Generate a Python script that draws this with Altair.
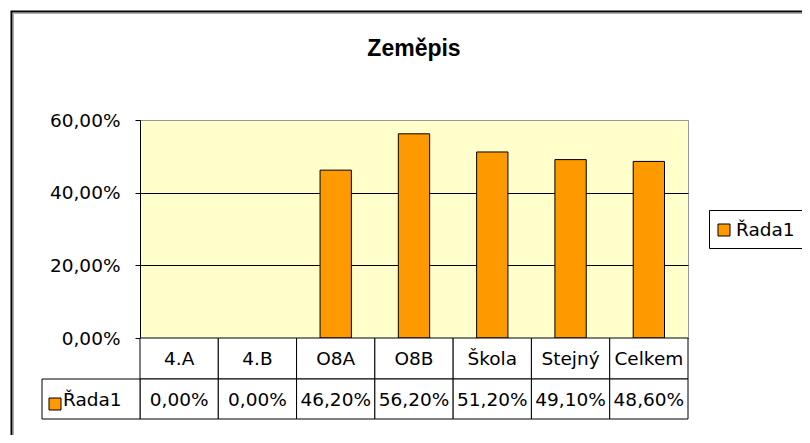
import altair as alt
import pandas as pd

# ---- data ----
categories = ["4.A", "4.B", "O8A", "O8B", "Škola", "Stejný", "Celkem"]
values = [0.0, 0.0, 0.462, 0.562, 0.512, 0.491, 0.486]
series_name = "Řada1"
y_ticks = [0.0, 0.2, 0.4, 0.6]
title_text = "Zeměpis"

df = pd.DataFrame({"cat": categories, "val": values,
                   "series": [series_name] * len(categories)})
one = pd.DataFrame({"series": [series_name], "title": [title_text]})

FONT = "DejaVu Sans"
FS = 18.5
W, H = 548, 218
ORANGE = "#FF9900"
PCT = "replace(format({v}, '.2%'), '.', ',')"

x_enc = alt.X("cat:N", sort=categories, axis=None,
              scale=alt.Scale(paddingInner=0, paddingOuter=0))
color_enc = alt.Color("series:N", scale=alt.Scale(domain=[series_name], range=[ORANGE]),
                      legend=None)

frame = alt.Chart(one).mark_rect(fill="transparent", stroke="black", strokeWidth=2).encode(
    x=alt.value(-128.5), x2=alt.value(720), y=alt.value(-108.5), y2=alt.value(420))
frame_in = alt.Chart(one).mark_rect(fill="transparent", stroke="#AAAAAA", strokeWidth=1).encode(
    x=alt.value(-126.5), x2=alt.value(720), y=alt.value(-106.5), y2=alt.value(420))

title = alt.Chart(one).mark_text(font="Liberation Sans", fontSize=23, fontWeight="bold",
                                 color="black", align="center", baseline="alphabetic").encode(
    x=alt.value(W / 2), y=alt.value(-64), text="title:N")

bars = alt.Chart(df).transform_filter("datum.val > 0").mark_bar(
    width={"band": 0.4}, stroke="black", strokeWidth=1).encode(
    x=x_enc,
    y=alt.Y("val:Q", scale=alt.Scale(domain=[0, 0.6], nice=False),
            axis=alt.Axis(values=y_ticks, title=None,
                          labelExpr=PCT.format(v="datum.value"),
                          labelFont=FONT, labelFontSize=FS, labelColor="black",
                          tickColor="black", tickSize=5, labelPadding=15,
                          domainColor="black",
                          gridColor={"condition": {"test": "datum.value >= 0.59", "value": "#999999"},
                                     "value": "black"})),
    color=color_enc,
)

# legend on the right (drawn as marks)
leg_box = alt.Chart(one).mark_rect(fill="white", stroke="black", strokeWidth=1).encode(
    x=alt.value(569.5), x2=alt.value(666.5), y=alt.value(90.5), y2=alt.value(128.5))
leg_sq = alt.Chart(one).mark_rect(stroke="black", strokeWidth=1).encode(
    x=alt.value(578), x2=alt.value(590), y=alt.value(104), y2=alt.value(116), color=color_enc)
leg_txt = alt.Chart(one).mark_text(font=FONT, fontSize=FS, color="black", align="left",
                                   baseline="middle").encode(
    x=alt.value(596), y=alt.value(110), text="series:N")

# data table below the plot
cells_cat = alt.Chart(df).mark_rect(fill="white", stroke="black", strokeWidth=1).encode(
    x=x_enc, y=alt.value(218), y2=alt.value(259))
cells_val = alt.Chart(df).mark_rect(fill="white", stroke="black", strokeWidth=1).encode(
    x=x_enc, y=alt.value(259), y2=alt.value(299))

cat_text = alt.Chart(df).mark_text(font=FONT, fontSize=FS, color="black").encode(
    x=x_enc, y=alt.value(239), text="cat:N")
val_text = alt.Chart(df).transform_calculate(
    lbl=PCT.format(v="datum.val")).mark_text(font=FONT, fontSize=FS, color="black").encode(
    x=x_enc, y=alt.value(280), text="lbl:N")

key_cell = alt.Chart(one).mark_rect(fill="white", stroke="black", strokeWidth=1).encode(
    x=alt.value(-98), x2=alt.value(0), y=alt.value(259), y2=alt.value(299))
key_sq = alt.Chart(one).mark_rect(stroke="black", strokeWidth=1).encode(
    x=alt.value(-91), x2=alt.value(-79), y=alt.value(278), y2=alt.value(290), color=color_enc)
key_txt = alt.Chart(one).mark_text(font=FONT, fontSize=FS, color="black", align="left").encode(
    x=alt.value(-77), y=alt.value(280), text="series:N")

chart = alt.layer(
    frame, frame_in, title, bars, leg_box, leg_sq, leg_txt,
    cells_cat, cells_val, cat_text, val_text, key_cell, key_sq, key_txt
).properties(
    width=W, height=H,
    autosize=alt.AutoSizeParams(type="none"),
    padding={"left": 132, "top": 112, "right": 114, "bottom": 97},
).configure_view(fill="#FFFFCC", stroke="#999999")

chart.save("out.html", embed_options={"renderer": "svg", "actions": False})
